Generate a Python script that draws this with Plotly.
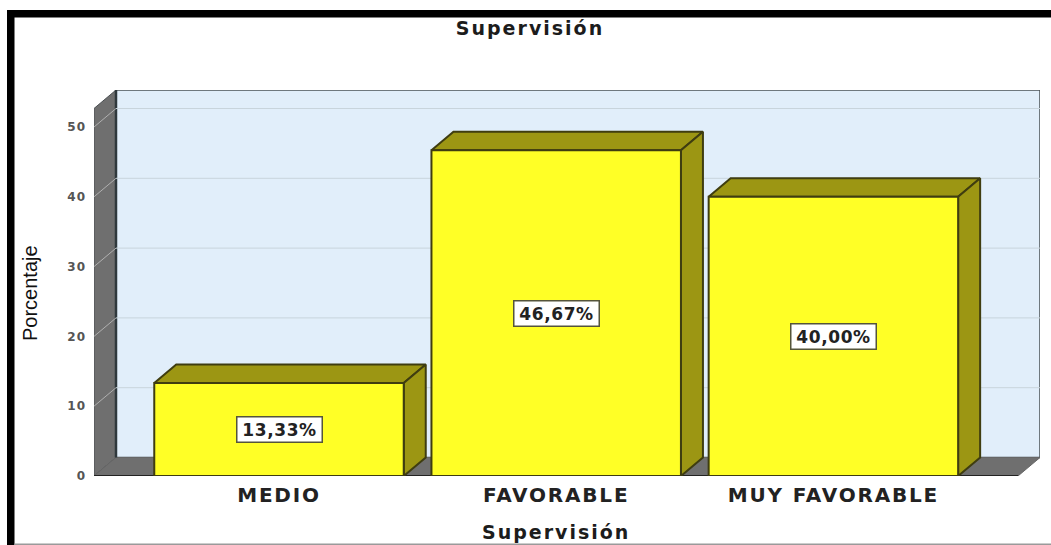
import plotly.graph_objects as go

categories = ["MEDIO", "FAVORABLE", "MUY FAVORABLE"]
percentages = [13.33, 46.67, 40.00]
value_labels = ["13,33%", "46,67%", "40,00%"]
y_ticks = [0, 10, 20, 30, 40, 50]
chart_title = "Supervisión"
x_title = "Supervisión"
y_title = "Porcentaje"

W, H = 1051, 545
L, R, T, B = 94, 1040, 90, 476
PX_X = 277.2
PX_Y = 6.98
X_MIN = (L - 279.0) / PX_X
X_MAX = (R - 279.0) / PX_X
Y_MAX = (B - T) / PX_Y
DX = 22 / PX_X
DY = 18.5 / PX_Y
BAR = 0.9
FRONT_R = X_MAX - DX

fig = go.Figure()


def poly(xs, ys, fill, line, w=1.5):
    fig.add_trace(go.Scatter(
        x=xs + xs[:1], y=ys + ys[:1], mode="lines", fill="toself", fillcolor=fill,
        line=dict(color=line, width=w), hoverinfo="skip", showlegend=False))


def path(xs, ys, color, w=1.5):
    fig.add_trace(go.Scatter(x=xs, y=ys, mode="lines", line=dict(color=color, width=w),
                             hoverinfo="skip", showlegend=False))


# back wall
poly([X_MIN + DX, X_MAX, X_MAX, X_MIN + DX], [DY, DY, Y_MAX, Y_MAX], "#e1eefa", "#4a5256", 1.5)
# side wall and floor
poly([X_MIN, X_MIN + DX, X_MIN + DX, X_MIN], [0, DY, Y_MAX, Y_MAX - DY], "#6f6f6f", "#4a4f52", 1)
poly([X_MIN, X_MIN + DX, X_MAX, FRONT_R], [0, DY, DY, 0], "#6f6f6f", "#666666", 1)
path([X_MIN, FRONT_R], [0, 0], "#222222", 2)
path([X_MIN + DX, X_MIN + DX], [DY, Y_MAX], "#2f383c", 2.5)

# gridlines
for t in y_ticks[1:]:
    path([X_MIN, X_MIN + DX], [t, t + DY], "#b0b0b0", 1)
    path([X_MIN + DX, X_MAX], [t + DY, t + DY], "#c8d4dc", 1)

# bars
for i, v in enumerate(percentages):
    x0, x1 = i - BAR / 2, i + BAR / 2
    poly([x0, x0 + DX, x1 + DX, x1], [v, v + DY, v + DY, v], "#9c9613", "#3f3d10", 2)
    poly([x1, x1 + DX, x1 + DX, x1], [0, DY, v + DY, v], "#9c9613", "#3f3d10", 2)
    poly([x0, x1, x1, x0], [0, 0, v, v], "#ffff26", "#3f3d10", 2)
    fig.add_annotation(x=i, y=v / 2, text=f"<b>{value_labels[i]}</b>", showarrow=False,
                       font=dict(family="DejaVu Sans", size=17, color="#222222"),
                       width=84, height=24, align="center",
                       bgcolor="white", bordercolor="#55553a", borderwidth=1.5, borderpad=0)

# axis titles
fig.add_annotation(xref="paper", yref="paper", x=(556 - L) / (R - L), y=(B - 532) / (B - T),
                   xanchor="center", yanchor="middle",
                   text=f"<b>{x_title}</b>", showarrow=False,
                   font=dict(family="DejaVu Sans", size=19, color="#1c1c1c"))
fig.add_annotation(xref="paper", yref="paper", x=(30 - L) / (R - L), y=(B - 293) / (B - T),
                   xanchor="center", yanchor="middle",
                   text=y_title, showarrow=False, textangle=-90,
                   font=dict(family="Liberation Sans", size=20, color="#111111"))


def rect(x0, y0, x1, y1, color):
    fig.add_shape(type="rect", xref="x domain", yref="y domain", layer="above",
                  x0=(x0 - L) / (R - L), x1=(x1 - L) / (R - L),
                  y0=(B - y0) / (B - T), y1=(B - y1) / (B - T),
                  fillcolor=color, line_width=0)


# picture frame
rect(7, 10, W, 17.5, "black")
rect(7, 10, 14.5, H, "black")
rect(14.5, 543.5, W, 545, "#9a9a9a")

fig.update_layout(
    width=W, height=H, autosize=False,
    margin=dict(l=L, r=W - R, t=T, b=H - B),
    paper_bgcolor="white", plot_bgcolor="rgba(0,0,0,0)", showlegend=False,
    title=dict(text=f"<b>{chart_title}</b>", x=530 / W, xanchor="center", y=1 - 28 / H, yanchor="middle",
               font=dict(family="DejaVu Sans", size=19, color="#1c1c1c")),
    xaxis=dict(range=[X_MIN, X_MAX], tickvals=list(range(len(categories))),
               ticktext=[f"<b>{c}</b>" for c in categories],
               showgrid=False, zeroline=False, showline=False, ticks="", ticklabelstandoff=5,
               tickfont=dict(family="DejaVu Sans", size=20, color="#222222")),
    yaxis=dict(range=[0, Y_MAX], tickvals=y_ticks, ticktext=[f"<b>{t}</b>" for t in y_ticks],
               showgrid=False, zeroline=False, showline=False,
               ticks="", ticklabelstandoff=7,
               tickfont=dict(family="DejaVu Sans", size=12, color="#555555")),
)

css = """
body{margin:0;overflow:hidden}
.gtitle{letter-spacing:2px}
.xtick text{letter-spacing:1.8px}
.ytick text{letter-spacing:1px}
.annotation text{letter-spacing:0.6px}
.annotation[data-index="3"] text{letter-spacing:2px}
.annotation[data-index="4"] text{letter-spacing:0}
"""
post = "var s=document.createElement('style');s.textContent=%r;document.head.appendChild(s);" % css
fig.write_html("out.html", config={"displayModeBar": False}, post_script=post)
